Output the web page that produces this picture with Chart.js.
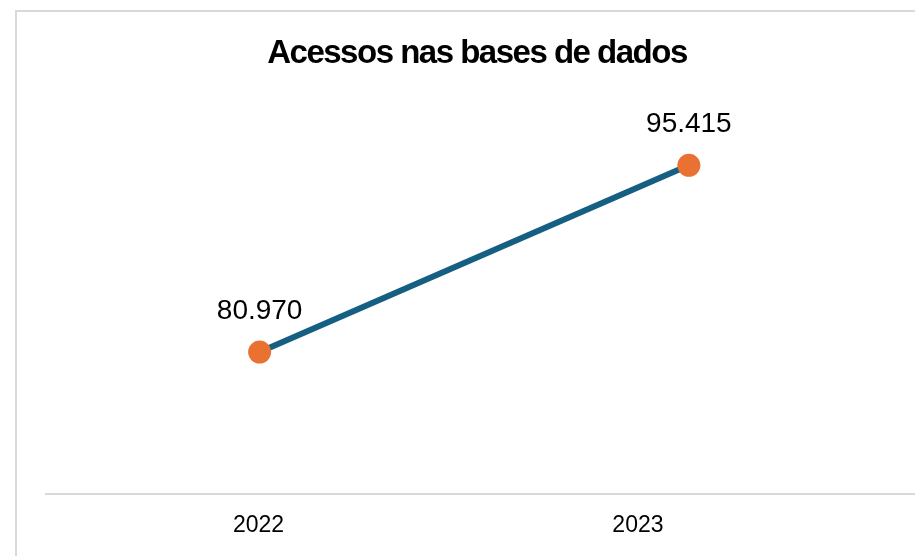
<!DOCTYPE html>
<html>
<head>
<meta charset="utf-8">
<title>Acessos nas bases de dados</title>
<script src="https://cdn.jsdelivr.net/npm/chart.js@4"></script>
<style>
  html, body { margin: 0; padding: 0; background: #fff; }
  #chart { display: block; }
</style>
</head>
<body>
<canvas id="chart" width="915" height="556"></canvas>
<script>
const title = 'Acessos nas bases de dados';
const years = ['2022', '2023'];
const accesses = [80970, 95415];
const yearTicks = [2022, 2023];

const FONT = "'Liberation Sans', Arial, sans-serif";

// frame, baseline, title and value labels drawn on the canvas
const decorations = {
  id: 'decorations',
  beforeDraw: chart => {
    const { ctx, chartArea } = chart;
    ctx.save();
    ctx.strokeStyle = '#d9d9d9';
    ctx.lineWidth = 2;
    ctx.beginPath();
    ctx.moveTo(16, 556);
    ctx.lineTo(16, 11);
    ctx.lineTo(chart.width, 11);
    ctx.stroke();

    ctx.beginPath();
    ctx.moveTo(45, chartArea.bottom);
    ctx.lineTo(chart.width, chartArea.bottom);
    ctx.stroke();

    ctx.fillStyle = '#000';
    ctx.font = 'bold 33px ' + FONT;
    ctx.letterSpacing = '-1.5px';
    ctx.textAlign = 'center';
    ctx.textBaseline = 'alphabetic';
    ctx.fillText(title, 477, 63);
    ctx.restore();
  },
  afterDatasetsDraw: chart => {
    const { ctx } = chart;
    const meta = chart.getDatasetMeta(0);
    ctx.save();
    ctx.fillStyle = '#000';
    ctx.font = '28px ' + FONT;
    ctx.textAlign = 'center';
    ctx.textBaseline = 'alphabetic';
    meta.data.forEach((pt, i) => {
      ctx.fillText(accesses[i].toLocaleString('pt-BR'), pt.x, pt.y - 33);
    });
    ctx.restore();
  }
};

new Chart(document.getElementById('chart'), {
  type: 'line',
  data: {
    labels: years,
    datasets: [{
      data: accesses,
      xAxisID: 'xData',
      borderColor: '#156082',
      borderWidth: 6,
      pointRadius: 11.5,
      pointHoverRadius: 11.5,
      pointBackgroundColor: '#E97132',
      pointBorderColor: '#E97132',
      pointBorderWidth: 0,
      tension: 0
    }]
  },
  options: {
    responsive: false,
    devicePixelRatio: 1,
    animation: false,
    layout: { padding: { top: 106, left: 45, right: 10, bottom: 0 } },
    plugins: {
      legend: { display: false },
      title: { display: false },
      tooltip: { enabled: false }
    },
    scales: {
      xData: {
        type: 'category',
        display: false,
        offset: true
      },
      x: {
        type: 'linear',
        position: 'bottom',
        min: 2021.437,
        max: 2023.7,
        afterBuildTicks: scale => {
          scale.ticks = yearTicks.map(v => ({ value: v }));
        },
        afterFit: scale => { scale.height = 62; },
        grid: { display: false, drawTicks: false },
        border: { display: false },
        ticks: {
          padding: 18,
          color: '#000',
          font: { family: FONT, size: 23 },
          callback: v => String(v)
        }
      },
      y: {
        display: false,
        min: 70000,
        max: 100000
      }
    }
  },
  plugins: [decorations]
});
</script>
</body>
</html>
